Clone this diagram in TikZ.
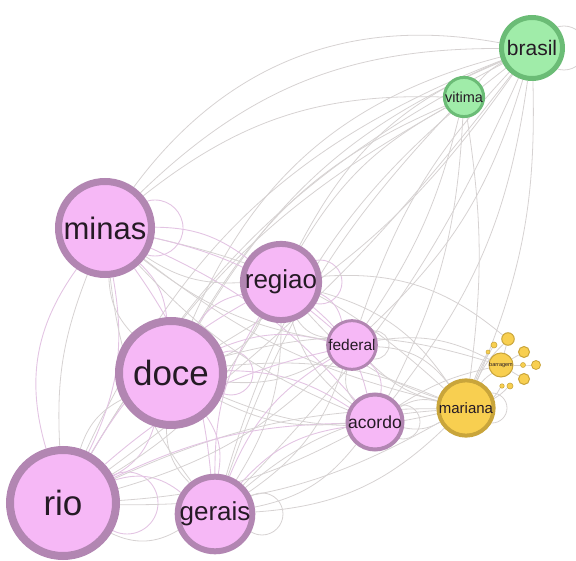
\documentclass[tikz,border=0pt]{standalone}
\usepackage{fontspec}
\setmainfont{Liberation Sans}
\pgfdeclarelayer{background}
\pgfsetlayers{background,main}
\definecolor{pinkfill}{HTML}{F6B8F6}
\definecolor{pinkline}{HTML}{B286B2}
\definecolor{greenfill}{HTML}{A0ECA9}
\definecolor{greenline}{HTML}{6BBC76}
\definecolor{yellowfill}{HTML}{F8CF50}
\definecolor{yellowline}{HTML}{C9A53B}
\definecolor{grayedge}{HTML}{D6D2D2}
\definecolor{pinkedge}{HTML}{E3C4E3}
\definecolor{labelink}{HTML}{251A25}
\tikzset{
  term/.style={circle, inner sep=0pt, text=labelink},
  pinkterm/.style={term, fill=pinkfill, draw=pinkline},
  greenterm/.style={term, fill=greenfill, draw=greenline},
  yellowterm/.style={term, fill=yellowfill, draw=yellowline},
  gedge/.style={draw=grayedge, line width=0.8pt},
  pedge/.style={draw=pinkedge, line width=0.9pt},
}
\begin{document}
\begin{tikzpicture}[x=1pt,y=-1pt]
\useasboundingbox (0,0) rectangle (576,561);

% terms
\node[greenterm, line width=5pt, minimum size=61pt, font=\fontsize{21}{21}\selectfont] (brasil) at (532,48) {brasil};
\node[greenterm, line width=3pt, minimum size=39pt, font=\fontsize{14.5}{14.5}\selectfont] (vitima) at (464,97) {vitima};
\node[pinkterm, line width=7pt, minimum size=93pt, font=\fontsize{31}{31}\selectfont] (minas) at (105,228) {minas};
\node[pinkterm, line width=6pt, minimum size=70pt, font=\fontsize{26}{26}\selectfont] (regiao) at (281,282) {regiao};
\node[pinkterm, line width=8pt, minimum size=104pt, font=\fontsize{35}{35}\selectfont] (doce) at (171,373) {doce};
\node[pinkterm, line width=3pt, minimum size=47pt, font=\fontsize{15.5}{15.5}\selectfont] (federal) at (352,345) {federal};
\node[pinkterm, line width=4pt, minimum size=54pt, font=\fontsize{17.5}{17.5}\selectfont] (acordo) at (375,422) {acordo};
\node[yellowterm, line width=4pt, minimum size=50pt, font=\fontsize{15}{15}\selectfont] (mariana) at (466,408) {mariana};
\node[pinkterm, line width=8pt, minimum size=106pt, font=\fontsize{35}{35}\selectfont] (rio) at (63,503) {rio};
\node[pinkterm, line width=6pt, minimum size=74pt, font=\fontsize{26}{26}\selectfont] (gerais) at (215,514) {gerais};

% small cluster around barragem
\node[yellowterm, line width=1pt, minimum size=14pt, font=\fontsize{5.5}{5.5}\selectfont] (barragem) at (501,365) {barragem};
\node[yellowterm, line width=1pt, minimum size=12.5pt] (y1) at (508,339) {};
\node[yellowterm, line width=0.6pt, minimum size=6pt] (y2) at (494,345) {};
\node[yellowterm, line width=0.5pt, minimum size=4pt] (y3) at (488,352) {};
\node[yellowterm, line width=1pt, minimum size=11pt] (y4) at (524,352) {};
\node[yellowterm, line width=0.5pt, minimum size=5pt] (y5) at (523,365) {};
\node[yellowterm, line width=0.8pt, minimum size=9pt] (y6) at (536,365) {};
\node[yellowterm, line width=1pt, minimum size=11pt] (y7) at (524,379) {};
\node[yellowterm, line width=0.6pt, minimum size=6pt] (y8) at (510,386) {};
\node[yellowterm, line width=0.5pt, minimum size=4.5pt] (y9) at (502,386) {};

\begin{pgfonlayer}{background}
% self loops
\draw[pedge] ([xshift=50pt]minas.center) circle (28pt);
\draw[pedge] ([xshift=39pt]regiao.center) circle (22pt);
\draw[pedge] ([xshift=60pt]doce.center) circle (22pt);
\draw[gedge] ([xshift=23pt]federal.center) circle (14pt);
\draw[gedge] ([xshift=28pt]acordo.center) circle (17pt);
\draw[gedge] ([xshift=26pt]mariana.center) circle (15pt);
\draw[pedge] ([xshift=64pt]rio.center) circle (31pt);
\draw[gedge] ([xshift=47pt]gerais.center) circle (21pt);
\draw[gedge] ([xshift=32pt]brasil.center) circle (22pt);

% links to brasil and vitima
\foreach \a/\b/\c in {
  minas/brasil/32, minas/brasil/22, doce/brasil/26, doce/brasil/18,
  rio/brasil/22, rio/brasil/16, gerais/brasil/18, regiao/brasil/20,
  federal/brasil/12, minas/vitima/20, doce/vitima/18, rio/vitima/15,
  regiao/vitima/15, gerais/vitima/12,
  brasil/acordo/15, brasil/mariana/12, brasil/federal/15, brasil/gerais/10,
  brasil/doce/12, brasil/rio/8, vitima/acordo/12, vitima/mariana/8,
  vitima/federal/10, vitima/brasil/10}
  \draw[gedge] (\a) to[bend left=\c] (\b);

% links to mariana and its cluster
\foreach \a/\b/\c in {
  mariana/acordo/20, acordo/mariana/22, mariana/federal/15, federal/mariana/25,
  mariana/doce/18, doce/mariana/14, mariana/rio/15, rio/mariana/12,
  mariana/gerais/20, gerais/mariana/18, mariana/regiao/15, regiao/mariana/20,
  mariana/minas/12, minas/mariana/15,
  regiao/y1/22, federal/barragem/18, doce/barragem/16, acordo/barragem/10,
  mariana/barragem/8, mariana/y1/10, mariana/y2/5, mariana/y3/5,
  mariana/y9/-10, mariana/y8/-8, barragem/y5/0, barragem/y6/0,
  barragem/y4/0, barragem/y7/0, barragem/y1/0}
  \draw[gedge] (\a) to[bend left=\c] (\b);

% links among the pink terms, one arc each way
\foreach \a/\b/\c in {
  minas/doce/20, minas/rio/18, minas/regiao/18, minas/gerais/15,
  minas/federal/14, minas/acordo/12, doce/rio/22, doce/gerais/22,
  doce/regiao/22, doce/federal/18, doce/acordo/16, rio/gerais/28,
  rio/regiao/15, rio/federal/14, rio/acordo/12, gerais/regiao/16,
  gerais/federal/18, gerais/acordo/20, regiao/federal/25, regiao/acordo/18,
  federal/acordo/28, rio/minas/26}
  \draw[pedge] (\a) to[bend left=\c] (\b);
\foreach \a/\b/\c in {
  doce/minas/20, rio/minas/12, regiao/minas/18, gerais/minas/15,
  federal/minas/14, acordo/minas/12, rio/doce/22, gerais/doce/22,
  regiao/doce/22, federal/doce/18, acordo/doce/16, gerais/rio/28,
  regiao/rio/15, federal/rio/14, acordo/rio/12, regiao/gerais/16,
  federal/gerais/18, acordo/gerais/20, federal/regiao/25, acordo/regiao/18,
  acordo/federal/28}
  \draw[gedge] (\a) to[bend left=\c] (\b);
\end{pgfonlayer}
\end{tikzpicture}
\end{document}
